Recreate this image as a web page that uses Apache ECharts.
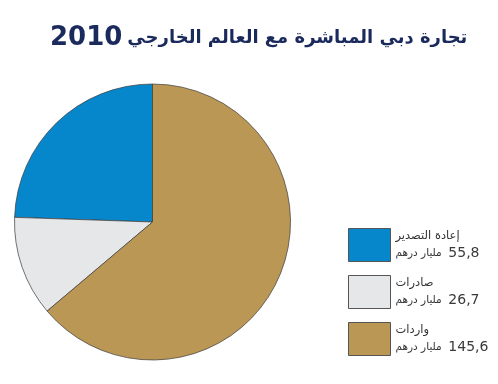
<!DOCTYPE html>
<html>
<head>
<meta charset="utf-8">
<script src="https://cdn.jsdelivr.net/npm/echarts@6/dist/echarts.min.js"></script>
<style>html,body{margin:0;padding:0;background:#fff;}#c{width:498px;height:384px;}</style>
</head>
<body>
<div id="c"></div>
<script>
var titleYear = '2010';
var titleText = 'تجارة دبي المباشرة مع العالم الخارجي';
var categories = ['إعادة التصدير', 'صادرات', 'واردات'];
var values = [55.8, 26.7, 145.6];
var valueLabels = ['55,8', '26,7', '145,6'];
var unitText = 'مليار درهم';
var colors = ['#0787CB', '#E6E7E9', '#BB9756'];

var chart = echarts.init(document.getElementById('c'), null, {renderer: 'canvas'});
var data = categories.map(function (n, i) {
  return {name: n, value: values[i], itemStyle: {color: colors[i]}};
});
chart.setOption({
  animation: false,
  backgroundColor: '#ffffff',
  title: {
    text: '{n|' + titleYear + '} {t|' + titleText + '}',
    left: 50,
    top: 23,
    padding: 0,
    textStyle: {
      rich: {
        n: {fontFamily: 'DejaVu Sans', fontWeight: 'bold', fontSize: 26, color: '#1B2A5C', lineHeight: 30},
        t: {fontFamily: 'DejaVu Sans', fontWeight: 'bold', fontSize: 18, color: '#1B2A5C', lineHeight: 30}
      }
    }
  },
  legend: {
    orient: 'vertical',
    left: 348,
    top: 228,
    padding: 0,
    itemWidth: 42,
    itemHeight: 33,
    itemGap: 13,
    icon: 'rect',
    selectedMode: false,
    data: categories,
    itemStyle: {borderColor: '#555', borderWidth: 1},
    formatter: function (name) {
      var i = categories.indexOf(name);
      return '{a|' + name + '}\n{u|' + unitText + '}  {v|' + valueLabels[i] + '}';
    },
    textStyle: {
      color: '#333',
      rich: {
        a: {fontFamily: 'DejaVu Sans', fontSize: 11.5, color: '#333', lineHeight: 16},
        u: {fontFamily: 'DejaVu Sans', fontSize: 10.5, color: '#333', lineHeight: 18},
        v: {fontFamily: 'DejaVu Sans', fontSize: 14, color: '#3a3a3a', lineHeight: 18}
      }
    }
  },
  series: [{
    type: 'pie',
    center: [152.5, 222],
    radius: 138,
    startAngle: 90,
    clockwise: false,
    label: {show: false},
    labelLine: {show: false},
    emphasis: {disabled: true},
    itemStyle: {borderColor: '#3a3a3a', borderWidth: 0.7},
    data: data
  }]
});
</script>
</body>
</html>
